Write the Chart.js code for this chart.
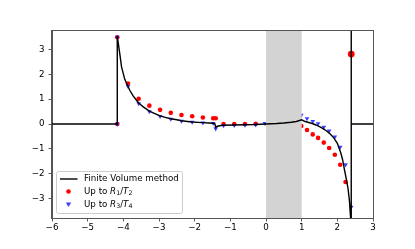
<!DOCTYPE html>
<html>
<head>
<meta charset="utf-8">
<script src="https://cdn.jsdelivr.net/npm/chart.js@4"></script>
<style>
  html, body { margin: 0; padding: 0; background: #fff; }
  #wrap { width: 415px; height: 249px; }
</style>
</head>
<body>
<div id="wrap"><canvas id="myChart" width="415" height="249"></canvas></div>
<script>
// Finite Volume method curve
const fvX = [-6, -4.17, -4.17, -4.1, -4.05, -3.96, -3.87, -3.82, -3.72, -3.63, -3.57, -3.45, -3.35, -3.27, -3.1,
  -2.97, -2.8, -2.67, -2.5, -2.37, -2.2, -2.07, -1.9, -1.77, -1.6, -1.47, -1.43, -1.41, -1.38, -1.3, -1.2,
  -0.9, -0.6, -0.3, 0, 0.3, 0.5, 0.7, 0.85, 1.0, 1.1, 1.2, 1.3, 1.4, 1.5, 1.6, 1.7, 1.8, 1.9, 2.0, 2.1,
  2.15, 2.2, 2.25, 2.3, 2.34, 2.37, 2.39, 2.39, 2.39, 3];
const fvY = [0, 0, 3.54, 2.84, 2.3, 1.8, 1.52, 1.36, 1.12, 0.96, 0.85, 0.7, 0.6, 0.52, 0.41,
  0.33, 0.26, 0.21, 0.17, 0.13, 0.1, 0.08, 0.065, 0.055, 0.04, 0.03, 0.0, -0.14, -0.1, -0.07, -0.05,
  -0.04, -0.03, -0.02, 0, 0.02, 0.04, 0.07, 0.1, 0.17, 0.1, 0.06, 0.02, -0.04, -0.11, -0.19, -0.28, -0.4, -0.56, -0.78, -1.18,
  -1.45, -1.85, -2.2, -2.6, -3.1, -3.75, -6, 6, 0, 0];

// Up to R1/T2
const r1X = [-4.17, -4.17, -3.87, -3.57, -3.27, -2.97, -2.67, -2.37, -2.07, -1.77, -1.48, -1.41, -1.19, -0.89, -0.59, -0.29,
  0.99, 1.15, 1.31, 1.46, 1.62, 1.77, 1.93, 2.08, 2.23, 2.39];
const r1Y = [3.5, 0, 1.63, 1.02, 0.74, 0.57, 0.45, 0.36, 0.31, 0.26, 0.23, 0.23, 0.0, 0.0, 0.0, 0.01,
  -0.08, -0.24, -0.42, -0.56, -0.75, -0.97, -1.24, -1.64, -2.34, 2.82];

// Up to R3/T4
const r3X = [-4.17, -4.17, -3.87, -3.57, -3.27, -2.97, -2.67, -2.37, -2.07, -1.77, -1.48, -1.41, -1.19, -0.89, -0.59, -0.29, -0.03,
  0.99, 1.15, 1.31, 1.46, 1.62, 1.77, 1.93, 2.08, 2.23, 2.39];
const r3Y = [3.5, 0, 1.52, 0.82, 0.5, 0.31, 0.2, 0.12, 0.08, 0.05, 0.03, -0.19, -0.06, -0.05, -0.04, -0.03, 0.03,
  0.36, 0.22, 0.11, 0.02, -0.12, -0.28, -0.52, -0.93, -1.64, -3.35];

const xTicks = [-6, -5, -4, -3, -2, -1, 0, 1, 2, 3];
const yTicks = [-3, -2, -1, 0, 1, 2, 3];
const bandRange = [0, 1];

const FONT = 'DejaVu Sans';
const fmt = v => v < 0 ? '\u2212' + Math.abs(v) : String(v);
const toPts = (xs, ys) => xs.map((x, i) => ({ x, y: ys[i] }));

// grey band, drawn over the markers but under the curve
const bandPlugin = {
    id: 'band',
    afterDatasetDraw(chart, args) {
        if (args.index !== 2) return;
        const { ctx, chartArea, scales } = chart;
        const x0 = scales.x.getPixelForValue(bandRange[0]);
        const x1 = scales.x.getPixelForValue(bandRange[1]);
        ctx.save();
        ctx.fillStyle = '#d3d3d3';
        ctx.fillRect(x0, chartArea.top, x1 - x0, chartArea.bottom - chartArea.top);
        ctx.restore();
    }
};

// top/right spines + legend with math-ish labels
function drawRuns(ctx, x, y, runs) {
    runs.forEach(r => {
        const size = r.sub ? 6.3 : 8.7;
        ctx.font = (r.it ? 'italic ' : '') + size + 'px "' + FONT + '"';
        ctx.fillText(r.t, x, y + (r.sub ? 2.2 : 0));
        x += ctx.measureText(r.t).width;
    });
}

const framePlugin = {
    id: 'frame',
    afterDraw(chart) {
        const { ctx, chartArea: a } = chart;
        ctx.save();
        ctx.strokeStyle = '#555';
        ctx.lineWidth = 1;
        ctx.strokeRect(a.left - 0.5, a.top + 0.5, a.right - a.left + 1, a.bottom - a.top);

        // legend box
        const bx = 56.5, by = 171.5, bw = 126, bh = 42, rr = 2;
        ctx.beginPath();
        ctx.moveTo(bx + rr, by);
        ctx.arcTo(bx + bw, by, bx + bw, by + bh, rr);
        ctx.arcTo(bx + bw, by + bh, bx, by + bh, rr);
        ctx.arcTo(bx, by + bh, bx, by, rr);
        ctx.arcTo(bx, by, bx + bw, by, rr);
        ctx.closePath();
        ctx.fillStyle = 'rgba(255,255,255,0.8)';
        ctx.fill();
        ctx.strokeStyle = '#cccccc';
        ctx.lineWidth = 1;
        ctx.stroke();

        // line sample
        ctx.strokeStyle = '#000';
        ctx.lineWidth = 1.4;
        ctx.beginPath();
        ctx.moveTo(60, 179);
        ctx.lineTo(77.5, 179);
        ctx.stroke();
        // red dot
        ctx.fillStyle = '#ff0000';
        ctx.beginPath();
        ctx.arc(68.5, 191.5, 2.3, 0, Math.PI * 2);
        ctx.fill();
        // blue triangle pointing down
        ctx.fillStyle = 'rgba(30,30,255,0.85)';
        ctx.beginPath();
        ctx.moveTo(65.8, 202.6);
        ctx.lineTo(71.2, 202.6);
        ctx.lineTo(68.5, 207);
        ctx.closePath();
        ctx.fill();

        ctx.fillStyle = '#000';
        ctx.textBaseline = 'middle';
        ctx.textAlign = 'left';
        drawRuns(ctx, 84, 179, [{ t: 'Finite Volume method' }]);
        drawRuns(ctx, 84, 191.5, [{ t: 'Up to ' }, { t: 'R', it: true }, { t: '1', sub: true }, { t: '/' }, { t: 'T', it: true }, { t: '2', sub: true }]);
        drawRuns(ctx, 84, 204.5, [{ t: 'Up to ' }, { t: 'R', it: true }, { t: '3', sub: true }, { t: '/' }, { t: 'T', it: true }, { t: '4', sub: true }]);
        ctx.restore();
    }
};

document.addEventListener('DOMContentLoaded', () => {
    const ctx = document.getElementById('myChart').getContext('2d');
    const lastRed = r1X.length - 1;

    new Chart(ctx, {
        type: 'scatter',
        data: {
            datasets: [
                {
                    label: 'Finite Volume method',
                    data: toPts(fvX, fvY),
                    showLine: true,
                    borderColor: '#000',
                    borderWidth: 1.4,
                    pointRadius: 0,
                    tension: 0,
                    order: 0
                },
                {
                    label: 'Up to R1/T2',
                    data: toPts(r1X, r1Y),
                    backgroundColor: '#ff0000',
                    borderWidth: 0,
                    pointRadius: c => c.dataIndex === lastRed ? 3.4 : 2.3,
                    order: 2
                },
                {
                    label: 'Up to R3/T4',
                    data: toPts(r3X, r3Y),
                    backgroundColor: 'rgba(30,30,255,0.85)',
                    borderWidth: 0,
                    pointStyle: 'triangle',
                    rotation: 180,
                    pointRadius: 2.7,
                    order: 1
                }
            ]
        },
        options: {
            responsive: false,
            animation: false,
            events: [],
            layout: { padding: { top: 30, right: 42, left: 0, bottom: 0 } },
            plugins: {
                legend: { display: false },
                tooltip: { enabled: false }
            },
            scales: {
                x: {
                    type: 'linear',
                    min: -6,
                    max: 3,
                    afterBuildTicks: s => { s.ticks = xTicks.map(v => ({ value: v })); },
                    afterFit: s => { s.height = 31; },
                    grid: { drawOnChartArea: false, drawTicks: true, tickLength: 3.5, tickWidth: 0.8, color: '#333' },
                    border: { display: true, color: '#555', width: 1 },
                    ticks: { color: '#000', padding: 1, font: { family: FONT, size: 8.7 }, callback: v => fmt(v), maxRotation: 0 }
                },
                y: {
                    type: 'linear',
                    min: -3.79,
                    max: 3.79,
                    afterBuildTicks: s => { s.ticks = yTicks.map(v => ({ value: v })); },
                    afterFit: s => { s.width = 52; },
                    grid: { drawOnChartArea: false, drawTicks: true, tickLength: 3.5, tickWidth: 0.8, color: '#333' },
                    border: { display: true, color: '#555', width: 1 },
                    ticks: { color: '#000', padding: 4, font: { family: FONT, size: 8.7 }, callback: v => fmt(v) }
                }
            }
        },
        plugins: [bandPlugin, framePlugin]
    });
});
</script>
</body>
</html>
